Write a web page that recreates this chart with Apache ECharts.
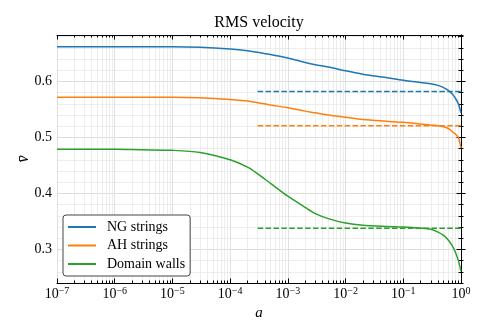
<!DOCTYPE html>
<html>
<head>
<meta charset="utf-8">
<script src="https://cdn.jsdelivr.net/npm/echarts@6/dist/echarts.min.js"></script>
<style>
  html, body { margin: 0; padding: 0; background: #fff; }
  #chart { width: 488px; height: 335px; }
</style>
</head>
<body>
<div id="chart"></div>
<script>
// scale factor a (log spaced samples)
const aValues = [1e-7, 1e-6, 3e-6, 1e-5, 3e-5, 1e-4, 2e-4, 3e-4, 5e-4, 1e-3, 2e-3, 3e-3, 5e-3,
  1e-2, 2e-2, 5e-2, 0.1, 0.2, 0.3, 0.4, 0.5, 0.6, 0.7, 0.8, 0.9, 1];
const ngStrings = [0.662, 0.662, 0.662, 0.662, 0.661, 0.658, 0.655, 0.652, 0.648, 0.642, 0.634, 0.630, 0.626,
  0.619, 0.613, 0.607, 0.602, 0.598, 0.596, 0.593, 0.589, 0.584, 0.578, 0.570, 0.560, 0.544];
const ahStrings = [0.572, 0.572, 0.572, 0.572, 0.571, 0.568, 0.565, 0.562, 0.558, 0.553, 0.547, 0.544, 0.540,
  0.536, 0.532, 0.529, 0.527, 0.524, 0.522, 0.521, 0.519, 0.516, 0.511, 0.506, 0.500, 0.481];
const domainWalls = [0.479, 0.479, 0.478, 0.477, 0.473, 0.460, 0.447, 0.435, 0.418, 0.395, 0.375, 0.364, 0.355,
  0.347, 0.343, 0.341, 0.340, 0.338, 0.336, 0.331, 0.325, 0.317, 0.307, 0.295, 0.280, 0.261];

// dashed asymptotes, drawn over a = 3e-4 .. 1
const fitRange = [3e-4, 1];
const fitValues = [0.582, 0.521, 0.338];

const names = ['NG strings', 'AH strings', 'Domain walls'];
const colors = ['#1f77b4', '#ff7f0e', '#2ca02c'];
const yTicks = [0.3, 0.4, 0.5, 0.6];

const FONT = '"Liberation Serif", "DejaVu Serif", serif';

// minor log ticks (2..9 in each decade), in log10 space
const minorX = [];
for (let n = -7; n < 0; n++) {
  for (let k = 2; k <= 9; k++) minorX.push(n + Math.log10(k));
}

const logA = aValues.map(a => Math.log10(a));
const toPts = vals => vals.map((v, i) => [logA[i], v]);

const chart = echarts.init(document.getElementById('chart'));

const yBase = { type: 'value', min: 0.24, max: 0.683, interval: 0.02 };
const xBase = { type: 'value', min: -7, max: 0, interval: 1 };
const black = { show: true, lineStyle: { color: '#000', width: 1 } };

chart.setOption({
  animation: false,
  graphic: [{
    type: 'text', x: 259, y: 15,
    style: { text: 'RMS velocity', font: '16px ' + FONT, fill: '#000', align: 'center', verticalAlign: 'top' }
  }],
  grid: { left: 57, right: 27, top: 35, bottom: 52 },
  legend: {
    data: names,
    orient: 'vertical',
    left: 63, top: 215,
    icon: 'rect', itemWidth: 28, itemHeight: 2, itemGap: 2.5,
    padding: [4, 5, 4, 5],
    backgroundColor: '#fff',
    borderColor: '#444', borderWidth: 1, borderRadius: 3,
    textStyle: { fontFamily: FONT, fontSize: 14, color: '#000', lineHeight: 16, padding: [0, 0, 0, 6] }
  },
  xAxis: [
    Object.assign({}, xBase, {
      position: 'bottom',
      axisLine: black,
      axisTick: { inside: true, length: 4.5, lineStyle: { color: '#000' } },
      axisLabel: {
        margin: 3, color: '#000',
        formatter: v => '{b|10}{s|' + (v === 0 ? '0' : '\u2212' + (-v)) + '}',
        rich: {
          b: { fontFamily: FONT, fontSize: 14, lineHeight: 16, color: '#000' },
          s: { fontFamily: FONT, fontSize: 10, lineHeight: 10, verticalAlign: 'top', color: '#000' }
        }
      },
      splitLine: { show: true, lineStyle: { color: '#d9d9d9', width: 0.8 } },
      name: 'a', nameLocation: 'middle', nameGap: 22,
      nameTextStyle: { fontFamily: FONT, fontStyle: 'italic', fontSize: 15, color: '#000' }
    }),
    Object.assign({}, xBase, {
      position: 'bottom',
      axisLine: { show: false },
      axisTick: { inside: true, length: 2.5, customValues: minorX, lineStyle: { color: '#000' } },
      axisLabel: { show: false },
      splitLine: { show: true, lineStyle: { color: '#e8e8e8', width: 0.8 } }
    }),
    Object.assign({}, xBase, {
      position: 'top',
      axisLine: black,
      axisTick: { inside: true, length: 4.5, lineStyle: { color: '#000' } },
      axisLabel: { show: false },
      splitLine: { show: false }
    }),
    Object.assign({}, xBase, {
      position: 'top',
      axisLine: { show: false },
      axisTick: { inside: true, length: 2.5, customValues: minorX, lineStyle: { color: '#000' } },
      axisLabel: { show: false },
      splitLine: { show: false }
    })
  ],
  yAxis: [
    Object.assign({}, yBase, {
      position: 'left',
      axisLine: black,
      axisTick: { inside: true, length: 2.5, lineStyle: { color: '#000' } },
      axisLabel: {
        customValues: yTicks, formatter: v => v.toFixed(1),
        fontFamily: FONT, fontSize: 14, color: '#000', margin: 5
      },
      splitLine: { show: true, lineStyle: { color: '#e8e8e8', width: 0.8 } },
      name: 'v\u0304', nameLocation: 'middle', nameGap: 25, nameRotate: 90,
      nameMoveOverlap: false,
      nameTextStyle: { fontFamily: FONT, fontStyle: 'italic', fontSize: 16, color: '#000' }
    }),
    Object.assign({}, yBase, {
      position: 'left',
      axisLine: { show: false },
      axisTick: { inside: true, length: 4.5, customValues: yTicks, lineStyle: { color: '#000' } },
      axisLabel: { show: false },
      splitLine: { show: true, lineStyle: { color: '#d9d9d9', width: 0.8 } }
    }),
    Object.assign({}, yBase, {
      position: 'right',
      axisLine: black,
      axisTick: { inside: true, length: 2.5, lineStyle: { color: '#000' } },
      axisLabel: { show: false },
      splitLine: { show: false }
    }),
    Object.assign({}, yBase, {
      position: 'right',
      axisLine: { show: false },
      axisTick: { inside: true, length: 4.5, customValues: yTicks, lineStyle: { color: '#000' } },
      axisLabel: { show: false },
      splitLine: { show: false }
    })
  ],
  series: [
    ...[ngStrings, ahStrings, domainWalls].map((vals, i) => ({
      name: names[i], type: 'line', data: toPts(vals),
      showSymbol: false, smooth: 0.3,
      color: colors[i], lineStyle: { width: 1.5, color: colors[i] }, z: 3
    })),
    ...fitValues.map((v, i) => ({
      name: names[i] + ' fit', type: 'line',
      data: fitRange.map(a => [Math.log10(a), v]),
      showSymbol: false, color: colors[i],
      lineStyle: { width: 1.5, color: colors[i], type: [5.5, 2.4] }, z: 2
    }))
  ]
});
</script>
</body>
</html>
